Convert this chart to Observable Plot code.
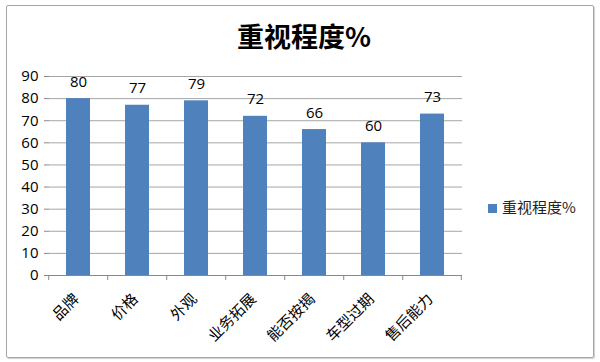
<!DOCTYPE html>
<html>
<head>
<meta charset="utf-8">
<script src="https://cdn.jsdelivr.net/npm/d3@7"></script>
<script src="https://cdn.jsdelivr.net/npm/@observablehq/plot@0.6"></script>
<style>
  html, body { margin: 0; padding: 0; background: #fff; }
  #wrap { position: relative; width: 600px; height: 362px; overflow: hidden; font-family: "Noto Sans CJK SC", "Noto Sans", sans-serif; }
  #frame { position: absolute; left: 6px; top: 5px; width: 586px; height: 351px; border: 1px solid #a6a6a6; border-radius: 2px; box-shadow: 1px 1px 1px #d0d0d0; }
  #title { position: absolute; left: 0; width: 608px; top: 16px; text-align: center; font-size: 27px; font-weight: bold; color: #000; line-height: 40px; }
  #legend { position: absolute; left: 488px; top: 197px; font-size: 15px; color: #222; line-height: 20px; white-space: nowrap; }
  #legend .sw { display: inline-block; width: 9px; height: 9px; background: #4F81BD; margin-right: 5px; vertical-align: 0px; }
  #chart { position: absolute; left: 0; top: 0; }
</style>
</head>
<body>
<div id="wrap">
  <div id="frame"></div>
  <div id="chart"></div>
  <div id="title"></div>
  <div id="legend"></div>
</div>
<script>
const title = "重视程度%";
const seriesName = "重视程度%";
const categories = ["品牌", "价格", "外观", "业务拓展", "能否按揭", "车型过期", "售后能力"];
const values = [80, 77, 79, 72, 66, 60, 73];
const yTicks = [0, 10, 20, 30, 40, 50, 60, 70, 80, 90];

const data = categories.map((c, i) => ({category: c, value: values[i]}));

document.getElementById("title").textContent = title;
document.getElementById("legend").innerHTML = '<span class="sw"></span>' + seriesName;

const padInner = 0.59;
const padOuter = padInner / 2;

// tick marks at category boundaries, derived from the band scale
function boundaryTicks(index, scales, values, dimensions) {
  const x = scales.x, y = scales.y;
  const step = x.bandwidth() / (1 - padInner);
  const g = d3.create("svg:g");
  const y0 = y(0);
  const xs = categories.map(c => x(c) - step * padInner / 2);
  xs.push(x(categories[categories.length - 1]) + x.bandwidth() + step * padInner / 2);
  for (const xv of xs) {
    g.append("line").attr("x1", xv).attr("x2", xv).attr("y1", y0).attr("y2", y0 + 5)
      .attr("stroke", "#888").attr("stroke-width", 1);
  }
  return g.node();
}

const chart = Plot.plot({
  width: 600,
  height: 362,
  marginLeft: 49,
  marginRight: 138,
  marginTop: 76,
  marginBottom: 87,
  style: {fontFamily: '"Noto Sans CJK SC", "Noto Sans", sans-serif', background: "transparent"},
  x: {type: "band", domain: categories, paddingInner: padInner, paddingOuter: padOuter, axis: null},
  y: {domain: [0, 90], ticks: yTicks, axis: null},
  marks: [
    Plot.gridY(yTicks, {stroke: "#a6a6a6", strokeOpacity: 1, strokeWidth: 1}),
    Plot.barY(data, {x: "category", y: "value", fill: "#4F81BD"}),
    Plot.axisY(yTicks, {label: null, tickSize: 5, tickPadding: 6, fontSize: 15, fill: "#000", stroke: "#888", fontFamily: '"Open Sans", sans-serif'}),
    Plot.ruleX([0], {frameAnchor: "left", stroke: "#888"}),
    Plot.ruleY([0], {stroke: "#888"}),
    boundaryTicks,
    Plot.text(data, {x: "category", y: "value", text: d => String(d.value), lineAnchor: "bottom", dy: -12, fontSize: 15, fill: "#000", fontFamily: '"Open Sans", sans-serif'}),
    Plot.text(categories, {x: d => d, y: () => 0, text: d => d, rotate: -45, textAnchor: "end", lineAnchor: "middle", dx: -2, dy: 21, fontSize: 15, fill: "#000"})
  ]
});
document.getElementById("chart").appendChild(chart);
</script>
</body>
</html>
